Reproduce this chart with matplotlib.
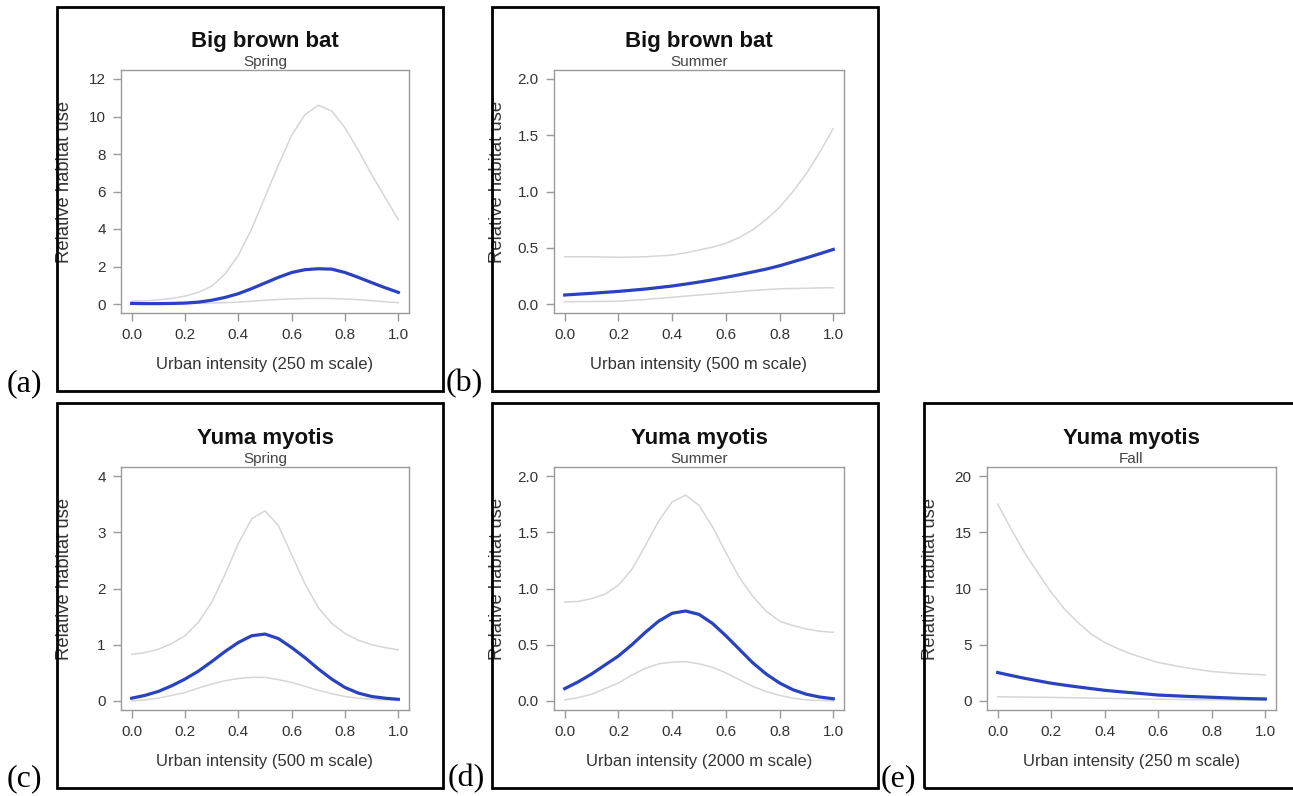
import matplotlib.pyplot as plt
from matplotlib.patches import Rectangle

# Urban intensity values at which the curves were read
x_a = [0.0, 0.05, 0.1, 0.15, 0.2, 0.25, 0.3, 0.35, 0.4, 0.45, 0.5, 0.55, 0.6, 0.65, 0.7, 0.75, 0.8, 0.85, 0.9, 0.95, 1.0]
fit_a = [0.03, 0.02, 0.02, 0.03, 0.05, 0.1, 0.2, 0.35, 0.55, 0.82, 1.12, 1.42, 1.68, 1.83, 1.88, 1.86, 1.68, 1.42, 1.14, 0.87, 0.62]
upr_a = [0.15, 0.17, 0.22, 0.3, 0.42, 0.62, 0.95, 1.6, 2.6, 4.0, 5.7, 7.4, 9.0, 10.1, 10.6, 10.3, 9.4, 8.2, 6.9, 5.7, 4.5]
lwr_a = [0.0, 0.0, 0.01, 0.01, 0.02, 0.03, 0.05, 0.07, 0.1, 0.15, 0.2, 0.24, 0.27, 0.29, 0.3, 0.29, 0.27, 0.23, 0.18, 0.12, 0.07]

x_b = [0.0, 0.1, 0.2, 0.3, 0.4, 0.45, 0.5, 0.55, 0.6, 0.65, 0.7, 0.75, 0.8, 0.85, 0.9, 0.95, 1.0]
fit_b = [0.08, 0.095, 0.112, 0.133, 0.16, 0.177, 0.195, 0.215, 0.237, 0.26, 0.285, 0.31, 0.34, 0.375, 0.41, 0.447, 0.485]
upr_b = [0.42, 0.42, 0.415, 0.42, 0.435, 0.455, 0.48, 0.505, 0.54, 0.59, 0.66, 0.75, 0.86, 1.0, 1.16, 1.35, 1.56]
lwr_b = [0.02, 0.022, 0.025, 0.04, 0.06, 0.07, 0.08, 0.09, 0.1, 0.11, 0.12, 0.128, 0.135, 0.138, 0.14, 0.143, 0.145]

x_c = [0.0, 0.05, 0.1, 0.15, 0.2, 0.25, 0.3, 0.35, 0.4, 0.45, 0.5, 0.55, 0.6, 0.65, 0.7, 0.75, 0.8, 0.85, 0.9, 0.95, 1.0]
fit_c = [0.05, 0.1, 0.17, 0.27, 0.39, 0.53, 0.7, 0.88, 1.04, 1.16, 1.19, 1.11, 0.95, 0.77, 0.57, 0.39, 0.24, 0.14, 0.08, 0.05, 0.03]
upr_c = [0.83, 0.86, 0.92, 1.02, 1.16, 1.4, 1.75, 2.25, 2.8, 3.24, 3.38, 3.12, 2.6, 2.08, 1.66, 1.38, 1.2, 1.08, 1.0, 0.95, 0.91]
lwr_c = [0.0, 0.02, 0.05, 0.1, 0.15, 0.23, 0.3, 0.36, 0.4, 0.42, 0.42, 0.38, 0.33, 0.26, 0.19, 0.13, 0.08, 0.05, 0.03, 0.02, 0.01]

x_d = [0.0, 0.05, 0.1, 0.15, 0.2, 0.25, 0.3, 0.35, 0.4, 0.45, 0.5, 0.55, 0.6, 0.65, 0.7, 0.75, 0.8, 0.85, 0.9, 0.95, 1.0]
fit_d = [0.11, 0.17, 0.24, 0.32, 0.4, 0.5, 0.61, 0.71, 0.78, 0.8, 0.77, 0.69, 0.58, 0.46, 0.34, 0.24, 0.16, 0.1, 0.06, 0.035, 0.02]
upr_d = [0.88, 0.885, 0.91, 0.95, 1.03, 1.17, 1.38, 1.6, 1.77, 1.83, 1.74, 1.55, 1.32, 1.1, 0.93, 0.8, 0.71, 0.67, 0.64, 0.62, 0.61]
lwr_d = [0.01, 0.03, 0.06, 0.11, 0.16, 0.23, 0.29, 0.33, 0.345, 0.35, 0.33, 0.3, 0.25, 0.19, 0.13, 0.085, 0.05, 0.025, 0.01, 0.005, 0.0]

x_e = [0.0, 0.05, 0.1, 0.15, 0.2, 0.25, 0.3, 0.35, 0.4, 0.45, 0.5, 0.6, 0.7, 0.8, 0.9, 1.0]
fit_e = [2.53, 2.27, 2.02, 1.8, 1.58, 1.41, 1.25, 1.1, 0.95, 0.84, 0.74, 0.53, 0.42, 0.33, 0.24, 0.18]
upr_e = [17.5, 15.3, 13.2, 11.4, 9.66, 8.17, 6.98, 5.94, 5.2, 4.65, 4.16, 3.42, 2.97, 2.62, 2.44, 2.32]
lwr_e = [0.38, 0.36, 0.35, 0.33, 0.32, 0.3, 0.28, 0.26, 0.24, 0.22, 0.2, 0.16, 0.13, 0.1, 0.08, 0.06]

species = ['Big brown bat', 'Big brown bat', 'Yuma myotis', 'Yuma myotis', 'Yuma myotis']
seasons = ['Spring', 'Summer', 'Spring', 'Summer', 'Fall']
xlabels = ['Urban intensity (250 m scale)', 'Urban intensity (500 m scale)',
           'Urban intensity (500 m scale)', 'Urban intensity (2000 m scale)',
           'Urban intensity (250 m scale)']
yticks = [[0, 2, 4, 6, 8, 10, 12], [0.0, 0.5, 1.0, 1.5, 2.0], [0, 1, 2, 3, 4],
          [0.0, 0.5, 1.0, 1.5, 2.0], [0, 5, 10, 15, 20]]
ytick_fmt = ['{:.0f}', '{:.1f}', '{:.0f}', '{:.1f}', '{:.0f}']
panel_tags = ['(a)', '(b)', '(c)', '(d)', '(e)']
xs = [x_a, x_b, x_c, x_d, x_e]
fits = [fit_a, fit_b, fit_c, fit_d, fit_e]
uprs = [upr_a, upr_b, upr_c, upr_d, upr_e]
lwrs = [lwr_a, lwr_b, lwr_c, lwr_d, lwr_e]

W, H = 1293, 796
fig = plt.figure(figsize=(W / 100, H / 100), dpi=100)
plt.rcParams['font.family'] = ['Liberation Sans', 'DejaVu Sans']

# pixel layout: plot area (left, right, top, bottom), outer box, tag position
plot_px = [(121, 409, 70, 313), (554, 844, 70, 313), (121, 409, 467, 710),
           (554, 844, 467, 710), (987, 1276, 467, 710)]
box_px = [(57, 443, 7, 391), (492, 878, 7, 391), (57, 443, 403, 788),
          (492, 878, 403, 788), (924, 1300, 403, 788)]
tag_px = [(7, 398), (446, 398), (7, 793), (448, 793), (881, 793)]

grey = '#9a9a9a'
txt = '#333333'

for i in range(5):
    l, r, t, b = plot_px[i]
    ax = fig.add_axes([l / W, 1 - b / H, (r - l) / W, (b - t) / H])
    ax.plot(xs[i], uprs[i], color='#d6d6d6', lw=1.1)
    ax.plot(xs[i], lwrs[i], color='#d6d6d6', lw=1.1)
    ax.plot(xs[i], fits[i], color='#2a42c0', lw=2.3)
    ymax = yticks[i][-1]
    ax.set_xlim(-0.04, 1.04)
    ax.set_ylim(-0.04 * ymax, 1.04 * ymax)
    ax.set_xticks([0.0, 0.2, 0.4, 0.6, 0.8, 1.0])
    ax.set_xticklabels(['0.0', '0.2', '0.4', '0.6', '0.8', '1.0'])
    ax.set_yticks(yticks[i])
    ax.set_yticklabels([ytick_fmt[i].format(v) for v in yticks[i]])
    for s in ax.spines.values():
        s.set_color(grey)
        s.set_linewidth(1.0)
    ax.tick_params(colors=grey, labelcolor=txt, labelsize=11, length=6, width=1, pad=5)
    ax.set_xlabel(xlabels[i], fontsize=12, color=txt)
    ax.xaxis.set_label_coords(0.5, -44 / (b - t))
    ax.set_ylabel('Relative habitat use', fontsize=13.3, color=txt)
    ax.yaxis.set_label_coords(-48 / (r - l), 0.54)
    cx = (l + r) / 2
    fig.text(cx / W, 1 - (t - 4) / H, seasons[i], ha='center', va='baseline', fontsize=11, color='#444444')
    fig.text(cx / W, 1 - (t - 23) / H, species[i], ha='center', va='baseline', fontsize=16,
             fontweight='bold', color='#111111')
    bl, br, bt, bb = box_px[i]
    fig.patches.append(Rectangle((bl / W, 1 - bb / H), (br - bl) / W, (bb - bt) / H,
                                 transform=fig.transFigure, fill=False, edgecolor='black', lw=2))
    tx, ty = tag_px[i]
    fig.text(tx / W, 1 - ty / H, panel_tags[i], ha='left', va='bottom', fontsize=23,
             family=['Liberation Serif', 'DejaVu Serif'], color='black')

fig.savefig('out.png', dpi=100)
